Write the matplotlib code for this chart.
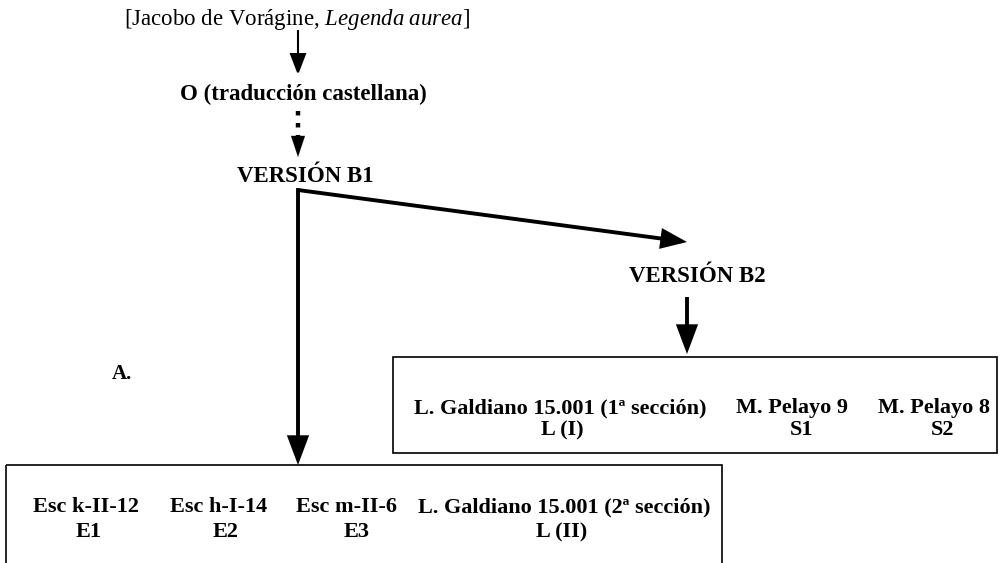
import matplotlib
matplotlib.use("Agg")
import matplotlib.pyplot as plt
from matplotlib.patches import FancyArrowPatch, Rectangle

plt.rcParams['font.family'] = ['Liberation Serif', 'DejaVu Serif']
plt.rcParams['mathtext.fontset'] = 'custom'
plt.rcParams['mathtext.rm'] = 'Liberation Serif'
plt.rcParams['mathtext.it'] = 'Liberation Serif:italic'

# texts of the stemma
fuente = r"[Jacobo de Vorágine, $\mathit{Legenda\ aurea}$]"
original = "O (traducción castellana)"
version_b1 = "VERSIÓN B1"
version_b2 = "VERSIÓN B2"
rama = "A."

# witnesses of each branch (name, siglum)
testigos_b2 = ["L. Galdiano 15.001 (1ª sección)", "M. Pelayo 9", "M. Pelayo 8"]
siglas_b2 = ["L (I)", "S1", "S2"]
testigos_b1 = ["Esc k-II-12", "Esc h-I-14", "Esc m-II-6", "L. Galdiano 15.001 (2ª sección)"]
siglas_b1 = ["E1", "E2", "E3", "L (II)"]

# layout (pixel space)
x_b2 = [560, 792, 934]
xs_b2 = [562, 802, 943]
x_b1 = [86, 219, 346, 564]
xs_b1 = [89, 226, 357, 562]

fig = plt.figure(figsize=(10, 5.63), dpi=100)
ax = fig.add_axes([0, 0, 1, 1])
ax.set_xlim(0, 1000)
ax.set_ylim(563, 0)
ax.axis('off')


def flecha(p0, p1, lw, head=(11, 5)):
    a = FancyArrowPatch(p0, p1, arrowstyle=f'-|>,head_length={head[0]},head_width={head[1]}',
                        mutation_scale=1, lw=lw, color='black', shrinkA=0, shrinkB=0,
                        joinstyle='miter', capstyle='butt')
    ax.add_patch(a)


fs = 16.5
ax.text(297, 25, fuente, ha='center', va='baseline', fontsize=fs)
flecha((298, 30), (298, 75), 1.5, head=(13, 5))

ax.text(303, 100, original, ha='center', va='baseline', fontsize=fs, fontweight='bold')
ax.plot([298, 298], [111, 137], ls=(0, (1, 1.7)), lw=3.2, color='black')
flecha((298, 141), (298, 157), 0.1, head=(15, 5))

ax.text(305, 182, version_b1, ha='center', va='baseline', fontsize=fs, fontweight='bold')

# branches from B1
ax.plot([298, 298], [190, 450], lw=2.8, color='black', solid_capstyle='projecting')
flecha((298, 440), (298, 465), 2.8, head=(16, 6))
flecha((298, 190), (687, 242), 2.8, head=(14, 5.5))

ax.text(697, 282, version_b2, ha='center', va='baseline', fontsize=fs, fontweight='bold')
flecha((687, 297), (687, 354), 2.8, head=(16, 6))

ax.text(122, 379, rama, ha='center', va='baseline', fontsize=15, fontweight='bold')

# box of B2 witnesses
ax.add_patch(Rectangle((393, 357), 604, 96, fill=False, lw=1.2, color='black'))
for x, xs, t, s in zip(x_b2, xs_b2, testigos_b2, siglas_b2):
    ax.text(x, 413, t, ha='center', va='baseline', fontsize=16, fontweight='bold')
    ax.text(xs, 435, s, ha='center', va='baseline', fontsize=16, fontweight='bold')

# box of B1 witnesses
ax.add_patch(Rectangle((6, 465), 716, 120, fill=False, lw=1.2, color='black'))
for x, xs, t, s in zip(x_b1, xs_b1, testigos_b1, siglas_b1):
    ax.text(x, 512, t, ha='center', va='baseline', fontsize=16, fontweight='bold')
    ax.text(xs, 537, s, ha='center', va='baseline', fontsize=16, fontweight='bold')

fig.savefig("out.png", dpi=100)
